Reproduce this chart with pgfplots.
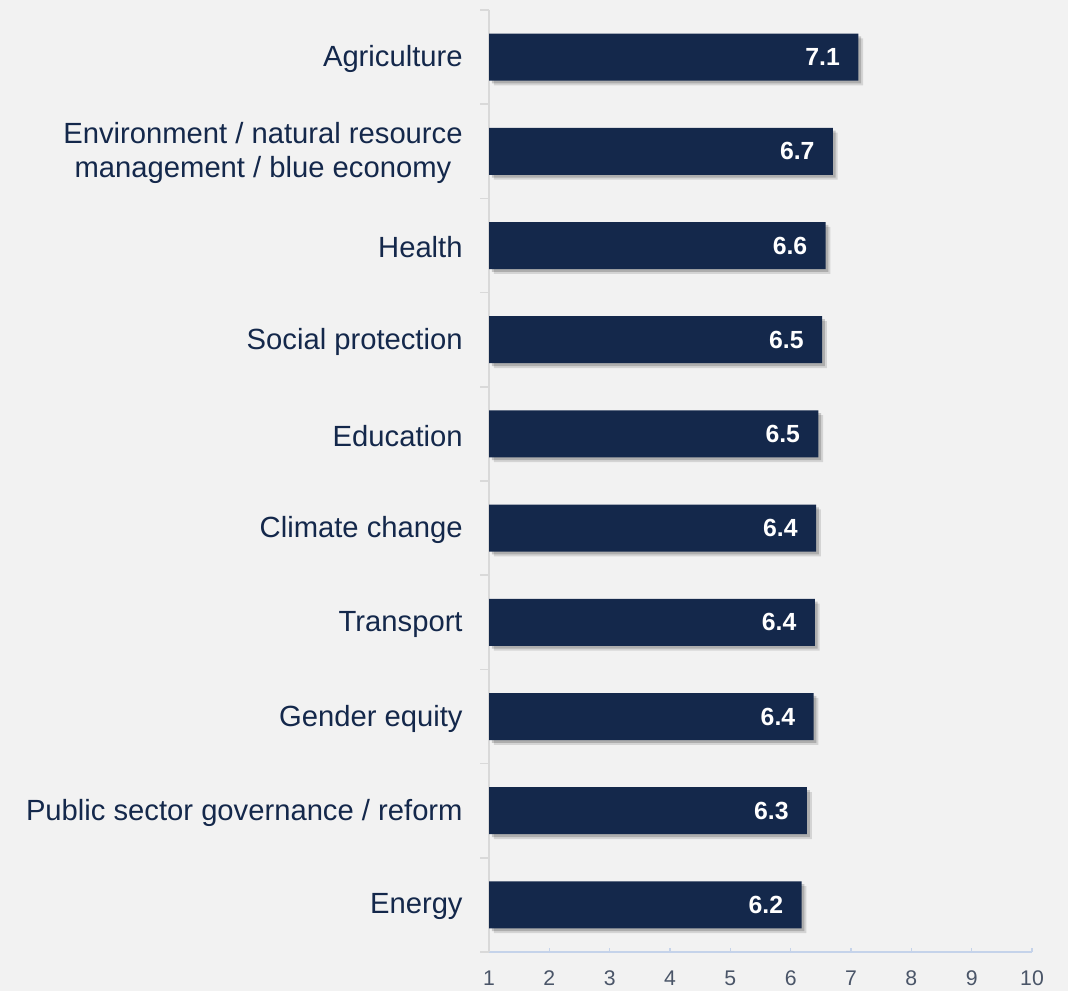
\documentclass[border=0pt]{standalone}
\usepackage{pgfplots}
\pgfplotsset{compat=1.18}
\usepackage{pgfplotstable}
\usepackage{fontspec}
\setmainfont{Liberation Sans}
\definecolor{bg}{HTML}{F2F2F2}
\definecolor{barc}{HTML}{14284B}
\definecolor{labc}{HTML}{14284B}
\definecolor{tickc}{HTML}{4A5568}
\definecolor{xaxc}{HTML}{C5D3EA}
\definecolor{yaxc}{HTML}{D9D9D9}
\pgfplotstableread{
y x lab
0 6.18 6.2
1 6.27 6.3
2 6.38 6.4
3 6.40 6.4
4 6.42 6.4
5 6.46 6.5
6 6.52 6.5
7 6.58 6.6
8 6.70 6.7
9 7.12 7.1
}\data
\begin{document}
\begin{tikzpicture}[x=1pt,y=1pt]
\fill[bg] (0,0) rectangle (534,495.5);
\begin{axis}[
  at={(244.5pt,19.5pt)}, anchor=south west,
  scale only axis, width=271.5pt, height=471pt,
  xmin=1, xmax=10, ymin=-0.5, ymax=9.5,
  xtick={1,...,10},
  ytick={0,...,9},
  yticklabels={Energy,Public sector governance / reform,Gender equity,Transport,Climate change,Education,Social protection,Health,{Environment / natural resource\\management / blue economy},Agriculture},
  yticklabel style={align=center, inner sep=0pt, xshift=-13pt, yshift=-1pt, text=labc, font=\fontsize{14.6}{17}\selectfont},
  xticklabel style={text=tickc, font=\fontsize{10.6}{12}\selectfont, inner sep=0pt, text height=7.6pt, text depth=0pt, yshift=-9pt},
  /pgf/number format/assume math mode=true,
  axis x line*=bottom, axis y line*=left,
  x axis line style={xaxc, line width=0.8pt, -},
  y axis line style={yaxc, line width=0.8pt, -},
  x tick style={xaxc, line width=0.8pt},
  xtick align=inside, major tick length=2pt,
  y tick style={draw=none},
  extra y ticks={-0.5,0.5,...,9.5},
  extra y tick labels={},
  extra y tick style={y tick style={draw=yaxc, line width=0.8pt}, major tick length=4.5pt, tick align=outside},
  clip=false,
]
\addplot[xbar, bar width=23.5pt, bar shift=0pt, fill=black, draw=none, opacity=0.12, xshift=2.4pt, yshift=-2.4pt, forget plot] table[x=x,y=y] {\data};
\addplot[xbar, bar width=23.5pt, bar shift=0pt, fill=black, draw=none, opacity=0.18, xshift=1.4pt, yshift=-1.4pt, forget plot] table[x=x,y=y] {\data};
\addplot[xbar, bar width=23.5pt, bar shift=0pt, fill=barc, draw=none,
  nodes near coords, point meta=explicit symbolic,
  every node near coord/.append style={anchor=east, inner sep=0pt, xshift=-9pt, text=white, font=\bfseries\fontsize{12.4}{14}\selectfont}
] table[x=x,y=y,meta=lab] {\data};
\end{axis}
\end{tikzpicture}
\end{document}
